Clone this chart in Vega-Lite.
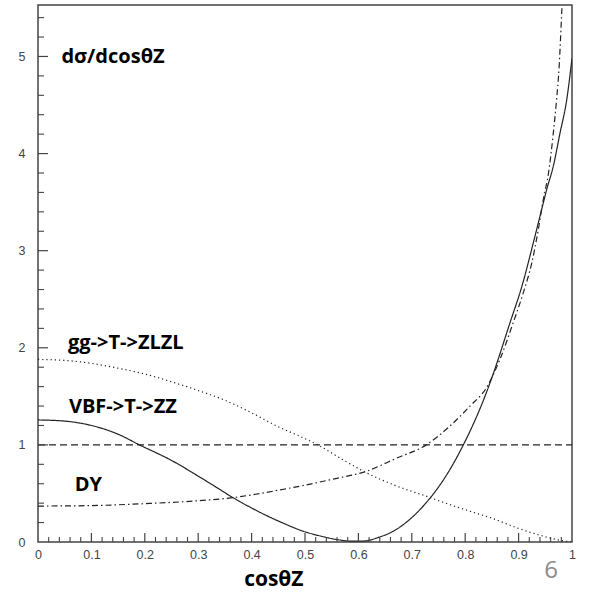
{
  "$schema": "https://vega.github.io/schema/vega-lite/v6.json",
  "width": 534,
  "height": 537,
  "autosize": {"type": "none"},
  "padding": {"left": 38, "top": 5, "right": 23, "bottom": 50},
  "background": "white",
  "config": {
    "view": {"stroke": "#444", "strokeWidth": 1.5},
    "axis": {"domain": false, "grid": false, "labelFont": "Liberation Sans", "labelFontSize": 12.5, "labelColor": "#444", "title": null}
  },
  "datasets": {
    "curves": [
      {"x": 0, "y": 1.257, "s": "VBF"}, {"x": 0.05, "y": 1.245, "s": "VBF"}, {"x": 0.1, "y": 1.2, "s": "VBF"}, {"x": 0.15, "y": 1.11, "s": "VBF"}, {"x": 0.19, "y": 1.0, "s": "VBF"}, {"x": 0.25, "y": 0.84, "s": "VBF"}, {"x": 0.3025, "y": 0.67, "s": "VBF"}, {"x": 0.335, "y": 0.56, "s": "VBF"}, {"x": 0.365, "y": 0.457, "s": "VBF"}, {"x": 0.4, "y": 0.35, "s": "VBF"}, {"x": 0.4525, "y": 0.21, "s": "VBF"}, {"x": 0.5, "y": 0.105, "s": "VBF"}, {"x": 0.53, "y": 0.06, "s": "VBF"}, {"x": 0.56, "y": 0.025, "s": "VBF"}, {"x": 0.59, "y": 0.008, "s": "VBF"}, {"x": 0.61, "y": 0.01, "s": "VBF"}, {"x": 0.639, "y": 0.05, "s": "VBF"}, {"x": 0.665, "y": 0.11, "s": "VBF"}, {"x": 0.689, "y": 0.2, "s": "VBF"}, {"x": 0.727, "y": 0.405, "s": "VBF"}, {"x": 0.764, "y": 0.68, "s": "VBF"}, {"x": 0.7965, "y": 1.0, "s": "VBF"}, {"x": 0.837, "y": 1.5, "s": "VBF"}, {"x": 0.853, "y": 1.74, "s": "VBF"}, {"x": 0.884, "y": 2.26, "s": "VBF"}, {"x": 0.906, "y": 2.63, "s": "VBF"}, {"x": 0.9275, "y": 3.08, "s": "VBF"}, {"x": 0.943, "y": 3.42, "s": "VBF"}, {"x": 0.9526, "y": 3.63, "s": "VBF"}, {"x": 0.965, "y": 3.87, "s": "VBF"}, {"x": 0.9775, "y": 4.21, "s": "VBF"}, {"x": 0.99, "y": 4.55, "s": "VBF"}, {"x": 1.0, "y": 4.98, "s": "VBF"},
      {"x": 0, "y": 1.88, "s": "gg"}, {"x": 0.05, "y": 1.87, "s": "gg"}, {"x": 0.1, "y": 1.84, "s": "gg"}, {"x": 0.15, "y": 1.79, "s": "gg"}, {"x": 0.2, "y": 1.73, "s": "gg"}, {"x": 0.25, "y": 1.65, "s": "gg"}, {"x": 0.3, "y": 1.56, "s": "gg"}, {"x": 0.35, "y": 1.46, "s": "gg"}, {"x": 0.4, "y": 1.33, "s": "gg"}, {"x": 0.4525, "y": 1.18, "s": "gg"}, {"x": 0.49, "y": 1.09, "s": "gg"}, {"x": 0.524, "y": 1.0, "s": "gg"}, {"x": 0.57, "y": 0.85, "s": "gg"}, {"x": 0.616, "y": 0.71, "s": "gg"}, {"x": 0.67, "y": 0.58, "s": "gg"}, {"x": 0.728, "y": 0.47, "s": "gg"}, {"x": 0.766, "y": 0.395, "s": "gg"}, {"x": 0.81, "y": 0.315, "s": "gg"}, {"x": 0.85, "y": 0.245, "s": "gg"}, {"x": 0.9, "y": 0.14, "s": "gg"}, {"x": 0.953, "y": 0.05, "s": "gg"}, {"x": 0.98, "y": 0.015, "s": "gg"}, {"x": 1.0, "y": 0.0, "s": "gg"},
      {"x": 0, "y": 0.37, "s": "DY"}, {"x": 0.1, "y": 0.375, "s": "DY"}, {"x": 0.2, "y": 0.395, "s": "DY"}, {"x": 0.3, "y": 0.425, "s": "DY"}, {"x": 0.365, "y": 0.457, "s": "DY"}, {"x": 0.4, "y": 0.485, "s": "DY"}, {"x": 0.4525, "y": 0.536, "s": "DY"}, {"x": 0.5, "y": 0.585, "s": "DY"}, {"x": 0.55, "y": 0.645, "s": "DY"}, {"x": 0.616, "y": 0.73, "s": "DY"}, {"x": 0.67, "y": 0.86, "s": "DY"}, {"x": 0.727, "y": 1.0, "s": "DY"}, {"x": 0.7715, "y": 1.195, "s": "DY"}, {"x": 0.809, "y": 1.4, "s": "DY"}, {"x": 0.84, "y": 1.59, "s": "DY"}, {"x": 0.865, "y": 1.88, "s": "DY"}, {"x": 0.89, "y": 2.26, "s": "DY"}, {"x": 0.909, "y": 2.57, "s": "DY"}, {"x": 0.9245, "y": 2.87, "s": "DY"}, {"x": 0.937, "y": 3.22, "s": "DY"}, {"x": 0.946, "y": 3.52, "s": "DY"}, {"x": 0.956, "y": 3.8, "s": "DY"}, {"x": 0.965, "y": 4.21, "s": "DY"}, {"x": 0.971, "y": 4.55, "s": "DY"}, {"x": 0.976, "y": 4.9, "s": "DY"}, {"x": 0.979, "y": 5.24, "s": "DY"}, {"x": 0.981, "y": 5.48, "s": "DY"}, {"x": 0.983, "y": 5.7, "s": "DY"},
      {"x": 0, "y": 1.0, "s": "ref"}, {"x": 1.0, "y": 1.0, "s": "ref"}
    ],
    "labels": [
      {"x": 0.0438, "y": 4.93, "t": "dσ/dcosθZ", "k": "main"},
      {"x": 0.0561, "y": 1.992, "t": "gg->T->ZLZL", "k": "main"},
      {"x": 0.0579, "y": 1.326, "t": "VBF->T->ZZ", "k": "main"},
      {"x": 0.0687, "y": 0.525, "t": "DY", "k": "main"},
      {"x": 0.4416, "y": -0.45, "t": "cosθZ", "k": "axis"},
      {"x": 0.961, "y": -0.367, "t": "6", "k": "page"}
    ],
    "xticks": [
      {"v": 0.1, "major": true}, {"v": 0.2, "major": true}, {"v": 0.3, "major": true}, {"v": 0.4, "major": true}, {"v": 0.5, "major": true}, {"v": 0.6, "major": true}, {"v": 0.7, "major": true}, {"v": 0.8, "major": true}, {"v": 0.9, "major": true},
      {"v": 0.02, "major": false}, {"v": 0.04, "major": false}, {"v": 0.06, "major": false}, {"v": 0.08, "major": false},
      {"v": 0.12, "major": false}, {"v": 0.14, "major": false}, {"v": 0.16, "major": false}, {"v": 0.18, "major": false},
      {"v": 0.22, "major": false}, {"v": 0.24, "major": false}, {"v": 0.26, "major": false}, {"v": 0.28, "major": false},
      {"v": 0.32, "major": false}, {"v": 0.34, "major": false}, {"v": 0.36, "major": false}, {"v": 0.38, "major": false},
      {"v": 0.42, "major": false}, {"v": 0.44, "major": false}, {"v": 0.46, "major": false}, {"v": 0.48, "major": false},
      {"v": 0.52, "major": false}, {"v": 0.54, "major": false}, {"v": 0.56, "major": false}, {"v": 0.58, "major": false},
      {"v": 0.62, "major": false}, {"v": 0.64, "major": false}, {"v": 0.66, "major": false}, {"v": 0.68, "major": false},
      {"v": 0.72, "major": false}, {"v": 0.74, "major": false}, {"v": 0.76, "major": false}, {"v": 0.78, "major": false},
      {"v": 0.82, "major": false}, {"v": 0.84, "major": false}, {"v": 0.86, "major": false}, {"v": 0.88, "major": false},
      {"v": 0.92, "major": false}, {"v": 0.94, "major": false}, {"v": 0.96, "major": false}, {"v": 0.98, "major": false}
    ],
    "yticks": [
      {"v": 1, "major": true}, {"v": 2, "major": true}, {"v": 3, "major": true}, {"v": 4, "major": true}, {"v": 5, "major": true},
      {"v": 0.2, "major": false}, {"v": 0.4, "major": false}, {"v": 0.6, "major": false}, {"v": 0.8, "major": false},
      {"v": 1.2, "major": false}, {"v": 1.4, "major": false}, {"v": 1.6, "major": false}, {"v": 1.8, "major": false},
      {"v": 2.2, "major": false}, {"v": 2.4, "major": false}, {"v": 2.6, "major": false}, {"v": 2.8, "major": false},
      {"v": 3.2, "major": false}, {"v": 3.4, "major": false}, {"v": 3.6, "major": false}, {"v": 3.8, "major": false},
      {"v": 4.2, "major": false}, {"v": 4.4, "major": false}, {"v": 4.6, "major": false}, {"v": 4.8, "major": false},
      {"v": 5.2, "major": false}, {"v": 5.4, "major": false}
    ]
  },
  "resolve": {"axis": {"x": "independent", "y": "independent"}},
  "layer": [
    {
      "data": {"name": "curves"},
      "mark": {"type": "line", "clip": true, "color": "#222", "strokeWidth": 1.2, "interpolate": "monotone"},
      "encoding": {
        "x": {"field": "x", "type": "quantitative", "scale": {"domain": [0, 1], "nice": false, "zero": false},
          "axis": {"orient": "bottom", "values": [0, 0.1, 0.2, 0.3, 0.4, 0.5, 0.6, 0.7, 0.8, 0.9, 1], "ticks": false, "tickSize": 0, "labelPadding": 6, "labelFlush": false, "labelOverlap": false, "format": "~g"}},
        "y": {"field": "y", "type": "quantitative", "scale": {"domain": [0, 5.53], "nice": false, "zero": false},
          "axis": {"orient": "left", "values": [0, 1, 2, 3, 4, 5], "ticks": false, "tickSize": 0, "labelPadding": 13, "labelFlush": false, "labelOverlap": false}},
        "detail": {"field": "s"},
        "strokeDash": {"field": "s", "type": "nominal", "legend": null,
          "scale": {"domain": ["VBF", "gg", "DY", "ref"], "range": [[1, 0], [1.2, 3], [6, 3, 1.5, 3], [7, 4]]}}
      }
    },
    {
      "data": {"name": "xticks"},
      "transform": [{"filter": "datum.major"}],
      "mark": {"type": "rule", "color": "#444", "strokeWidth": 1.2},
      "encoding": {
        "x": {"field": "v", "type": "quantitative", "scale": {"domain": [0, 1], "nice": false, "zero": false}, "axis": null},
        "y": {"datum": 0, "type": "quantitative", "scale": {"domain": [0, 5.53], "nice": false, "zero": false}, "axis": null},
        "y2": {"datum": 0.093}
      }
    },
    {
      "data": {"name": "xticks"},
      "transform": [{"filter": "!datum.major"}],
      "mark": {"type": "rule", "color": "#444", "strokeWidth": 1.1},
      "encoding": {
        "x": {"field": "v", "type": "quantitative", "scale": {"domain": [0, 1], "nice": false, "zero": false}, "axis": null},
        "y": {"datum": 0, "type": "quantitative", "scale": {"domain": [0, 5.53], "nice": false, "zero": false}, "axis": null},
        "y2": {"datum": 0.052}
      }
    },
    {
      "data": {"name": "yticks"},
      "transform": [{"filter": "datum.major"}],
      "mark": {"type": "rule", "color": "#444", "strokeWidth": 1.2},
      "encoding": {
        "y": {"field": "v", "type": "quantitative", "scale": {"domain": [0, 5.53], "nice": false, "zero": false}, "axis": null},
        "x": {"datum": 0, "type": "quantitative", "scale": {"domain": [0, 1], "nice": false, "zero": false}, "axis": null},
        "x2": {"datum": 0.0187}
      }
    },
    {
      "data": {"name": "yticks"},
      "transform": [{"filter": "!datum.major"}],
      "mark": {"type": "rule", "color": "#444", "strokeWidth": 1.1},
      "encoding": {
        "y": {"field": "v", "type": "quantitative", "scale": {"domain": [0, 5.53], "nice": false, "zero": false}, "axis": null},
        "x": {"datum": 0, "type": "quantitative", "scale": {"domain": [0, 1], "nice": false, "zero": false}, "axis": null},
        "x2": {"datum": 0.0112}
      }
    },
    {
      "data": {"name": "labels"},
      "transform": [{"filter": "datum.k == 'main'"}],
      "mark": {"type": "text", "align": "left", "baseline": "alphabetic", "font": "Open Sans", "fontWeight": "bold", "fontSize": 20, "color": "#000"},
      "encoding": {
        "x": {"field": "x", "type": "quantitative", "scale": {"domain": [0, 1], "nice": false, "zero": false}, "axis": null},
        "y": {"field": "y", "type": "quantitative", "scale": {"domain": [0, 5.53], "nice": false, "zero": false}, "axis": null},
        "text": {"field": "t"}
      }
    },
    {
      "data": {"name": "labels"},
      "transform": [{"filter": "datum.k == 'axis'"}],
      "mark": {"type": "text", "align": "center", "baseline": "alphabetic", "font": "Open Sans", "fontWeight": "bold", "fontSize": 21, "color": "#000"},
      "encoding": {
        "x": {"field": "x", "type": "quantitative", "scale": {"domain": [0, 1], "nice": false, "zero": false}, "axis": null},
        "y": {"field": "y", "type": "quantitative", "scale": {"domain": [0, 5.53], "nice": false, "zero": false}, "axis": null},
        "text": {"field": "t"}
      }
    },
    {
      "data": {"name": "labels"},
      "transform": [{"filter": "datum.k == 'page'"}],
      "mark": {"type": "text", "align": "center", "baseline": "alphabetic", "font": "Open Sans", "fontSize": 24, "color": "#8a8a8a"},
      "encoding": {
        "x": {"field": "x", "type": "quantitative", "scale": {"domain": [0, 1], "nice": false, "zero": false}, "axis": null},
        "y": {"field": "y", "type": "quantitative", "scale": {"domain": [0, 5.53], "nice": false, "zero": false}, "axis": null},
        "text": {"field": "t"}
      }
    }
  ]
}
